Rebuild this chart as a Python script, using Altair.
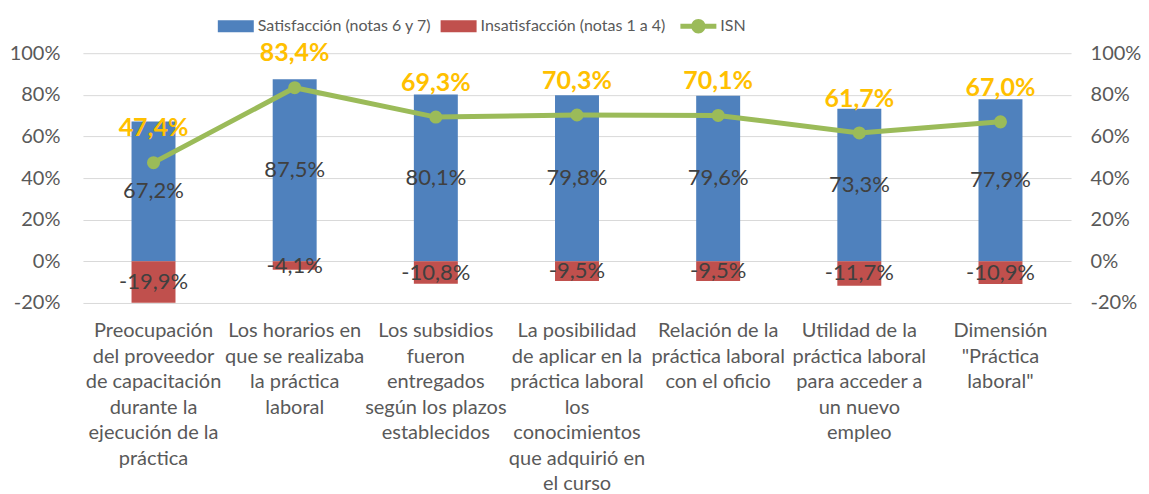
import altair as alt
import pandas as pd

categorias = [
    "Preocupación|del proveedor|de capacitación|durante la|ejecución de la|práctica",
    "Los horarios en|que se realizaba|la práctica|laboral",
    "Los subsidios|fueron|entregados|según los plazos|establecidos",
    "La posibilidad|de aplicar en la|práctica laboral|los|conocimientos|que adquirió en|el curso",
    "Relación de la|práctica laboral|con el oficio",
    "Utilidad de la|práctica laboral|para acceder a|un nuevo|empleo",
    "Dimensión|\"Práctica|laboral\"",
]
satisfaccion = [67.2, 87.5, 80.1, 79.8, 79.6, 73.3, 77.9]
insatisfaccion = [-19.9, -4.1, -10.8, -9.5, -9.5, -11.7, -10.9]
isn = [47.4, 83.4, 69.3, 70.3, 70.1, 61.7, 67.0]
series = ["Satisfacción (notas 6 y 7)", "Insatisfacción (notas 1 a 4)", "ISN"]
colores = ["#4F81BD", "#C0504D", "#9BBB59"]
y_ticks = [-20, 0, 20, 40, 60, 80, 100]

FONT = "Lato"
GRAY = "#595959"
FMT = "replace(replace(format({f}, '.1f'), '.', ','), '\u2212', '-') + '%'"

bars_df = pd.DataFrame(
    [{"cat": c, "serie": series[0], "valor": v} for c, v in zip(categorias, satisfaccion)]
    + [{"cat": c, "serie": series[1], "valor": v} for c, v in zip(categorias, insatisfaccion)]
)
isn_df = pd.DataFrame({"cat": categorias, "isn": isn, "serie": series[2]})

ydom = alt.Scale(domain=[-20, 100], nice=False, zero=False)
x_enc = alt.X(
    "cat:N",
    sort=categorias,
    scale=alt.Scale(paddingInner=0, paddingOuter=0),
    axis=alt.Axis(
        title=None, labelAngle=0, domain=False, ticks=False, labelPadding=18,
        labelExpr="split(datum.label, '|')", labelLineHeight=25.5, labelFontSize=20,
        labelColor=GRAY, labelFont=FONT, labelOverlap=False, labelLimit=300,
        labelBaseline="top",
    ),
)

sym_rect = "M-1,-0.33H1V0.33H-1Z"
sym_line = "M-1,-0.14H1V0.14H-1Z M0.4,0 A0.4,0.4 0 1,1 -0.4,0 A0.4,0.4 0 1,1 0.4,0Z"

bars = alt.Chart(bars_df).mark_bar(size=44).encode(
    x=x_enc,
    y=alt.Y(
        "valor:Q", scale=ydom, stack=None,
        axis=alt.Axis(
            title=None, values=y_ticks, labelExpr="datum.value + '%'", grid=True,
            gridColor="#D9D9D9", gridWidth=1, domain=False, ticks=False, tickSize=0,
            labelPadding=23, labelFontSize=20, labelColor=GRAY, labelFont=FONT,
            minExtent=75,
        ),
    ),
    color=alt.Color(
        "serie:N",
        scale=alt.Scale(domain=series[:2], range=colores[:2]),
        legend=alt.Legend(
            title=None, orient="none", direction="horizontal", columns=2,
            legendX=135, legendY=-45, symbolSize=1296, symbolType=sym_rect,
            symbolStrokeWidth=0, labelLimit=400,
            labelFontSize=16, labelColor=GRAY, labelFont=FONT, labelOffset=4,
            columnPadding=9,
        ),
    ),
)

bar_text = alt.Chart(bars_df).transform_calculate(
    mid="datum.valor / 2",
    etiqueta=FMT.format(f="datum.valor"),
).mark_text(fontSize=22, color="#404040", font=FONT).encode(
    x=x_enc,
    y=alt.Y("mid:Q", scale=ydom, axis=None),
    text="etiqueta:N",
)

line = alt.Chart(isn_df).mark_line(
    strokeWidth=5,
    point=alt.OverlayMarkDef(filled=True, size=170, opacity=1),
).encode(
    x=x_enc,
    y=alt.Y(
        "isn:Q", scale=ydom,
        axis=alt.Axis(
            title=None, orient="right", values=y_ticks, labelExpr="datum.value + '%'",
            grid=False, domain=False, ticks=False, tickSize=0, labelPadding=19,
            labelFontSize=20, labelColor=GRAY, labelFont=FONT,
        ),
    ),
    color=alt.Color(
        "serie:N",
        scale=alt.Scale(domain=series[2:], range=colores[2:]),
        legend=alt.Legend(
            title=None, orient="none", direction="horizontal",
            legendX=598, legendY=-45, symbolSize=1296, symbolType=sym_line,
            symbolStrokeWidth=0, symbolFillColor=colores[2], labelLimit=400,
            labelFontSize=16, labelColor=GRAY, labelFont=FONT, labelOffset=4,
        ),
    ),
)

isn_text = alt.Chart(isn_df).transform_calculate(
    pos="datum.isn + 16.5",
    etiqueta=FMT.format(f="datum.isn"),
).mark_text(fontSize=25, fontWeight="bold", color="#FFC000", font=FONT).encode(
    x=x_enc,
    y=alt.Y("pos:Q", scale=ydom, axis=None),
    text="etiqueta:N",
)

chart = alt.layer(bars, bar_text, line, isn_text).resolve_scale(
    y="independent", color="independent"
).properties(
    width=989, height=250,
    padding={"left": 0, "right": 0, "top": 0, "bottom": 0},
).configure_view(stroke=None)

chart.save("out.html", embed_options={"renderer": "svg", "actions": False})
